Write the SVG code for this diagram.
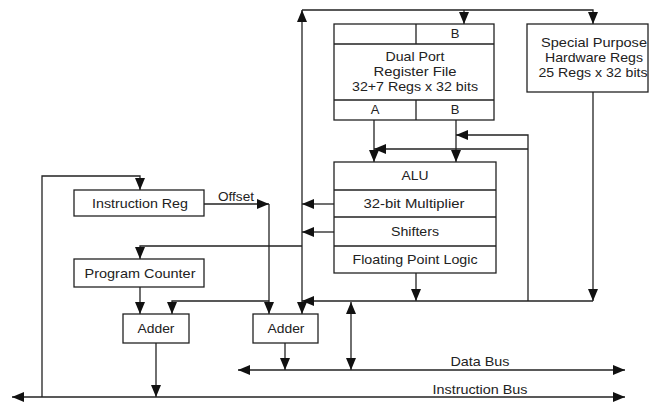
<svg xmlns="http://www.w3.org/2000/svg" width="650" height="402" viewBox="0 0 650 402">
<style>
  .box{fill:#fff;stroke:#222;stroke-width:1.3}
  .div{stroke:#222;stroke-width:1.3;fill:none}
  .c{fill:none;stroke:#222;stroke-width:1.3}
  .e{marker-end:url(#a)}
  .s{marker-start:url(#a)}
  text{font-family:"Liberation Sans",Arial,sans-serif;font-size:13px;fill:#222;text-anchor:middle}
</style>
<defs>
  <marker id="a" viewBox="0 0 12 10" refX="12" refY="5" markerWidth="12" markerHeight="10" orient="auto-start-reverse" markerUnits="userSpaceOnUse">
    <path d="M0,0 L12,5 L0,10 z" fill="#111"/>
  </marker>
</defs>
<rect width="650" height="402" fill="#fff"/>

<g id="connectors">
  <path class="c e" d="M302,300 L302,10"/>
  <path class="c e" d="M302,10 L593,10 L593,24"/>
  <path class="c e" d="M464,10 L464,24"/>
  <path class="c e" d="M302,300 L302,314"/>
  <path class="c e" d="M334,204 L302,204"/>
  <path class="c e" d="M334,232 L302,232"/>
  <path class="c e" d="M302,246 L140,246 L140,259"/>
  <path class="c e" d="M374,120 L374,162"/>
  <path class="c e" d="M456,120 L456,162"/>
  <path class="c e" d="M528,301 L528,135 L456,135"/>
  <path class="c e" d="M528,149 L374,149"/>
  <path class="c e" d="M593,92 L593,301"/>
  <path class="c e" d="M416,273 L416,301"/>
  <path class="c e" d="M593,301 L302,301"/>
  <path class="c s e" d="M351,302 L351,370"/>
  <path class="c s e" d="M238,370 L625,370"/>
  <path class="c e" d="M285,343 L285,370"/>
  <path class="c s e" d="M12,397 L625,397"/>
  <path class="c e" d="M156,343 L156,397"/>
  <path class="c e" d="M42,397 L42,176 L140,176 L140,190"/>
  <path class="c e" d="M204,204 L269,204"/>
  <path class="c e" d="M269,204 L269,314"/>
  <path class="c e" d="M269,301 L172,301 L172,314"/>
  <path class="c e" d="M140,287 L140,314"/>
</g>

<g id="regfile">
  <rect class="box" x="334" y="24" width="160" height="96"/>
  <path class="div" d="M334,44 H494 M334,100 H494 M416,24 V44 M416,100 V120"/>
  <text x="455" y="38">B</text>
  <text x="415" y="61" textLength="59" lengthAdjust="spacingAndGlyphs">Dual Port</text>
  <text x="415" y="76" textLength="83" lengthAdjust="spacingAndGlyphs">Register File</text>
  <text x="415" y="91" textLength="126" lengthAdjust="spacingAndGlyphs">32+7 Regs x 32 bits</text>
  <text x="375" y="114">A</text>
  <text x="455" y="114">B</text>
</g>

<g id="special">
  <rect class="box" x="527" y="24" width="121" height="68"/>
  <text x="594" y="47" textLength="106" lengthAdjust="spacingAndGlyphs">Special Purpose</text>
  <text x="594" y="62" textLength="98" lengthAdjust="spacingAndGlyphs">Hardware Regs</text>
  <text x="593" y="77" textLength="109" lengthAdjust="spacingAndGlyphs">25 Regs x 32 bits</text>
</g>

<g id="alu">
  <rect class="box" x="334" y="162" width="162" height="111"/>
  <path class="div" d="M334,190 H496 M334,217 H496 M334,246 H496"/>
  <text x="415" y="180" textLength="27" lengthAdjust="spacingAndGlyphs">ALU</text>
  <text x="414" y="208" textLength="101" lengthAdjust="spacingAndGlyphs">32-bit Multiplier</text>
  <text x="415" y="236" textLength="48" lengthAdjust="spacingAndGlyphs">Shifters</text>
  <text x="415" y="264" textLength="125" lengthAdjust="spacingAndGlyphs">Floating Point Logic</text>
</g>

<g id="instruction-reg">
  <rect class="box" x="74" y="190" width="130" height="26"/>
  <text x="140" y="208" textLength="96" lengthAdjust="spacingAndGlyphs">Instruction Reg</text>
</g>

<g id="program-counter">
  <rect class="box" x="74" y="259" width="130" height="28"/>
  <text x="140" y="278" textLength="111" lengthAdjust="spacingAndGlyphs">Program Counter</text>
</g>

<g id="adder1">
  <rect class="box" x="123" y="314" width="66" height="29"/>
  <text x="156" y="333" textLength="37" lengthAdjust="spacingAndGlyphs">Adder</text>
</g>

<g id="adder2">
  <rect class="box" x="253" y="314" width="65" height="29"/>
  <text x="286" y="333" textLength="37" lengthAdjust="spacingAndGlyphs">Adder</text>
</g>

<g id="labels">
  <text x="236" y="201" textLength="36" lengthAdjust="spacingAndGlyphs">Offset</text>
  <text x="480" y="366" textLength="59" lengthAdjust="spacingAndGlyphs">Data Bus</text>
  <text x="480" y="394" textLength="95" lengthAdjust="spacingAndGlyphs">Instruction Bus</text>
</g>
</svg>
